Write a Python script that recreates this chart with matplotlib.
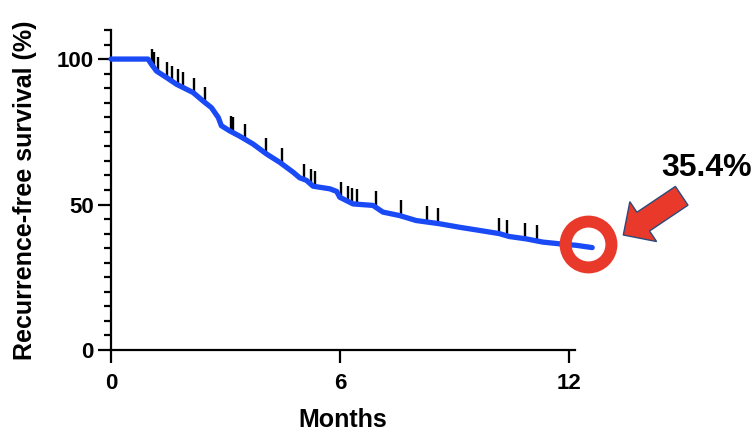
import numpy as np
import matplotlib
matplotlib.use("Agg")
import matplotlib.pyplot as plt
from matplotlib.patches import FancyArrow

plt.rcParams['font.family'] = ['Liberation Sans', 'DejaVu Sans']
plt.rcParams['font.weight'] = 'bold'

# Kaplan-Meier curve (months, % recurrence-free)
months = [0, 0.97, 1.06, 1.19, 1.46, 1.72, 1.89, 2.15, 2.41, 2.63, 2.81, 2.89,
          3.11, 3.37, 3.72, 4.07, 4.42, 4.77, 4.94, 5.12, 5.29, 5.73, 5.91,
          5.99, 6.34, 6.86, 7.12, 7.56, 7.99, 8.60, 9.12, 9.65, 10.17, 10.43,
          10.87, 11.30, 11.74, 12.17, 12.60]
survival = [100, 100, 98.2, 95.9, 93.6, 91.3, 90.2, 88.5, 85.6, 83.3, 79.9, 77.1,
            75.3, 73.5, 70.8, 67.4, 64.5, 61.1, 59.2, 58.3, 56.3, 55.4, 54.5,
            52.5, 50.2, 49.7, 47.4, 46.2, 44.5, 43.4, 42.2, 41.1, 40.0, 39.0,
            38.2, 37.1, 36.5, 36.0, 35.2]

# censored patients (months)
censored = [1.065, 1.125, 1.24, 1.46, 1.60, 1.75, 1.88, 2.18, 2.46, 3.15, 3.19,
            3.51, 4.06, 4.47, 5.05, 5.25, 5.35, 6.02, 6.20, 6.31, 6.44, 6.93,
            7.59, 8.27, 8.55, 10.17, 10.37, 10.83, 11.16]

x_ticks = [0, 6, 12]
y_ticks = [0, 50, 100]
final_label = "35.4%"

fig = plt.figure(figsize=(7.55, 4.37), dpi=100)
ax = fig.add_axes([0.147, 0.1991, 0.6146, 0.7323])

blue = '#1a4af5'
red = '#e8392b'

ax.plot(months, survival, color=blue, lw=3.8, solid_capstyle='round',
        zorder=3, clip_on=False)

# censor ticks sit on top of the curve
cens_y = np.interp(censored, months, survival)
ax.vlines(censored, cens_y, cens_y + 5.4, color='black', lw=1.7, zorder=2)

ax.set_xlim(0, 12.15)
ax.set_ylim(0, 110)
ax.set_xticks(x_ticks)
ax.set_yticks(y_ticks)
ax.set_yticks(np.arange(0, 111, 5), minor=True)
ax.tick_params(axis='both', which='major', length=9.5, width=1.6,
               labelsize=16, pad=3)
ax.tick_params(axis='x', pad=7)
ax.tick_params(axis='y', which='minor', length=5, width=1.6)
for side in ['top', 'right']:
    ax.spines[side].set_visible(False)
for side in ['left', 'bottom']:
    ax.spines[side].set_linewidth(1.6)

ax.set_xlabel('Months', fontsize=18, fontweight='bold', labelpad=10)
ax.set_ylabel('Recurrence-free survival (%)', fontsize=18,
              fontweight='bold', labelpad=14)

# highlight the end of the curve
ax.plot([12.49], [36.6], marker='o', ms=33, mfc='none', mec=red, mew=8.6,
        clip_on=False, zorder=4)

arrow = FancyArrow(6.817, 2.412, -0.584, -0.392, width=0.226,
                   head_width=0.48, head_length=0.24,
                   length_includes_head=True, facecolor=red,
                   edgecolor='#2c4b7c', lw=1.0,
                   transform=fig.dpi_scale_trans)
fig.patches.append(arrow)

fig.text(0.936, 0.616, final_label, fontsize=23, fontweight='bold',
         ha='center', va='center')

plt.savefig('out.png', dpi=100)
